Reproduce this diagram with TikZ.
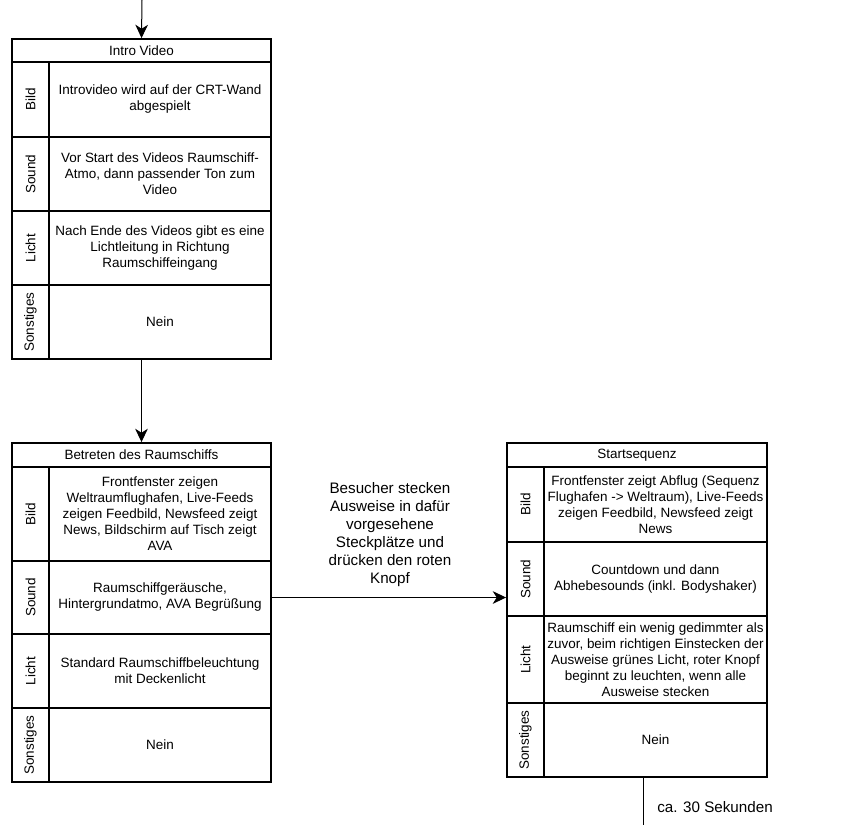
\documentclass[tikz,border=0pt]{standalone}
\usepackage{fontspec}
\setmainfont{Liberation Sans}
\usetikzlibrary{arrows.meta}

\tikzset{
  cell/.style={draw, line width=1.4pt, inner sep=0pt, align=center, anchor=center,
    font=\fontsize{10.1}{12}\selectfont},
  titlecell/.style={cell, minimum width=194.25pt},
  labelcell/.style={cell, rotate=90, minimum height=27.75pt},
  textcell/.style={cell, minimum width=166.5pt},
  flow/.style={line width=0.75pt, -{Stealth[length=10pt,width=9.5pt,inset=3pt]}},
  note/.style={align=center, font=\fontsize{11.4}{13.5}\selectfont}
}

\begin{document}
\begin{tikzpicture}[x=0.75pt,y=-0.75pt]
\useasboundingbox (0,0) rectangle (864,825);

% Intro video
\begin{scope}[shift={(12,39)}]
\node[titlecell, minimum height=17.25pt] (introtitle) at (129.5,11.5) {Intro Video};

\node[labelcell, minimum width=56.25pt] (introbildl) at (18.5,60.5) {Bild};
\node[textcell, minimum height=56.25pt] (introbild) at (148,60.5)
  {Introvideo wird auf der CRT-Wand\\abgespielt};

\node[labelcell, minimum width=55.5pt] (introsoundl) at (18.5,135) {Sound};
\node[textcell, minimum height=55.5pt] (introsound) at (148,135)
  {Vor Start des Videos Raumschiff-\\Atmo, dann passender Ton zum\\Video};

\node[labelcell, minimum width=55.5pt] (introlichtl) at (18.5,209) {Licht};
\node[textcell, minimum height=55.5pt] (introlicht) at (148,209)
  {Nach Ende des Videos gibt es eine\\Lichtleitung in Richtung\\Raumschiffeingang};

\node[labelcell, minimum width=55.5pt] (introsonstl) at (18.5,283) {Sonstiges};
\node[textcell, minimum height=55.5pt] (introsonst) at (148,283) {Nein};
\end{scope}

% Betreten des Raumschiffs
\begin{scope}[shift={(12,443)}]
\node[titlecell, minimum height=18pt] (bettitle) at (129.5,12) {Betreten des Raumschiffs};

\node[labelcell, minimum width=70.5pt] (betbildl) at (18.5,71) {Bild};
\node[textcell, minimum height=70.5pt] (betbild) at (148,71)
  {Frontfenster zeigen\\Weltraumflughafen, Live-Feeds\\zeigen Feedbild, Newsfeed zeigt\\News, Bildschirm auf Tisch zeigt\\AVA};

\node[labelcell, minimum width=54.75pt] (betsoundl) at (18.5,154.5) {Sound};
\node[textcell, minimum height=54.75pt] (betsound) at (148,154.5)
  {Raumschiffgeräusche,\\Hintergrundatmo, AVA Begrüßung};

\node[labelcell, minimum width=55.5pt] (betlichtl) at (18.5,228) {Licht};
\node[textcell, minimum height=55.5pt] (betlicht) at (148,228)
  {Standard Raumschiffbeleuchtung\\mit Deckenlicht};

\node[labelcell, minimum width=55.5pt] (betsonstl) at (18.5,302) {Sonstiges};
\node[textcell, minimum height=55.5pt] (betsonst) at (148,302) {Nein};
\end{scope}

% Startsequenz
\begin{scope}[shift={(507,443)}]
\node[titlecell, minimum width=195pt, minimum height=18pt] (starttitle) at (130,12) {Startsequenz};

\node[labelcell, minimum width=56.25pt] (startbildl) at (18.5,61.5) {Bild};
\node[textcell, minimum width=167.25pt, minimum height=56.25pt] (startbild) at (148.5,61.5)
  {Frontfenster zeigt Abflug (Sequenz\\Flughafen -> Weltraum), Live-Feeds\\zeigen Feedbild, Newsfeed zeigt\\News};

\node[labelcell, minimum width=55.5pt] (startsoundl) at (18.5,136) {Sound};
\node[textcell, minimum width=167.25pt, minimum height=55.5pt] (startsound) at (148.5,136)
  {Countdown und dann\\Abhebesounds (inkl. Bodyshaker)};

\node[labelcell, minimum width=65.25pt] (startlichtl) at (18.5,216.5) {Licht};
\node[textcell, minimum width=167.25pt, minimum height=65.25pt] (startlicht) at (148.5,216.5)
  {Raumschiff ein wenig gedimmter als\\zuvor, beim richtigen Einstecken der\\Ausweise grünes Licht, roter Knopf\\beginnt zu leuchten, wenn alle\\Ausweise stecken};

\node[labelcell, minimum width=55.5pt] (startsonstl) at (18.5,297) {Sonstiges};
\node[textcell, minimum width=167.25pt, minimum height=55.5pt] (startsonst) at (148.5,297) {Nein};
\end{scope}

% Connectors
\coordinate (entry) at (142,0);
\coordinate (exit) at (643,825);
\draw[flow] (entry) -- (introtitle.north);
\draw[flow] (introtitle.center |- introsonst.south) -- (bettitle.north);
\draw[flow] (betsound.east) -- (betsound.east -| startsoundl.north);
\draw[line width=0.75pt] (exit |- startsonst.south) -- (exit);

% Labels
\node[note] (actlabel) at (390,535)
  {Besucher stecken\\Ausweise in dafür\\vorgesehene\\Steckplätze und\\drücken den roten\\Knopf};
\node[note] (timelabel) at (715,807) {ca. 30 Sekunden};
\end{tikzpicture}
\end{document}
